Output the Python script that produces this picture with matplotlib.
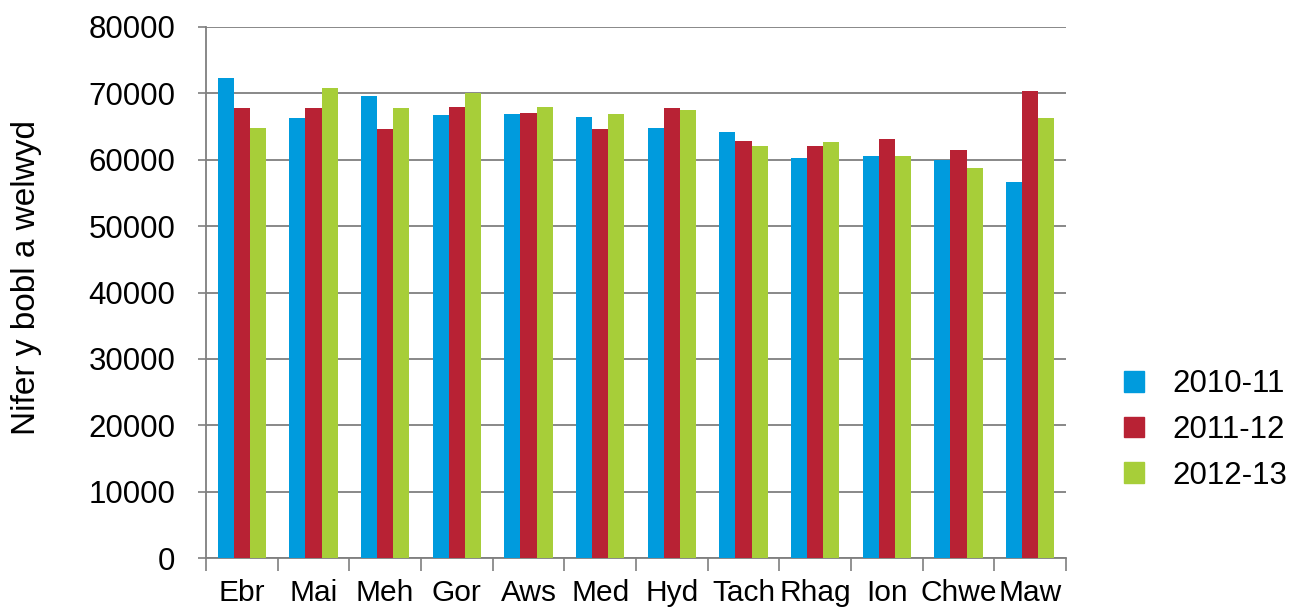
import matplotlib.pyplot as plt
import numpy as np
from matplotlib.patches import Patch

plt.rcParams['font.family'] = ['Liberation Sans', 'DejaVu Sans']

months = ["Ebr", "Mai", "Meh", "Gor", "Aws", "Med", "Hyd", "Tach", "Rhag", "Ion", "Chwe", "Maw"]
y2010_11 = [72300, 66300, 69600, 66700, 66900, 66500, 64800, 64200, 60300, 60600, 59900, 56700]
y2011_12 = [67800, 67800, 64700, 67900, 67000, 64700, 67800, 62800, 62100, 63100, 61500, 70400]
y2012_13 = [64800, 70800, 67800, 70000, 67900, 66900, 67500, 62100, 62700, 60600, 58700, 66300]
series_names = ["2010-11", "2011-12", "2012-13"]
colors = ["#009BDD", "#B82234", "#A7CE39"]

fig = plt.figure(figsize=(12.93, 6.08), dpi=100)
ax = fig.add_axes([206 / 1293, 50 / 608, 860 / 1293, 531 / 608])

x = np.arange(len(months))
w = 0.224
for i, (vals, c) in enumerate(zip([y2010_11, y2011_12, y2012_13], colors)):
    ax.bar(x + (i - 1) * w, vals, width=w, color=c, zorder=3)

ax.set_xlim(-0.5, len(months) - 0.5)
ax.set_ylim(0, 80000)
ax.set_yticks(np.arange(0, 80001, 10000))
ax.yaxis.grid(True, color="#7f7f7f", linewidth=1.3, zorder=0)
ax.set_axisbelow(True)

# category labels centred, tick marks on the boundaries
ax.set_xticks(x)
ax.set_xticklabels(months, fontsize=21.5)
ax.tick_params(axis="x", length=0, pad=15)
ax.set_xticks(np.arange(-0.5, len(months)), minor=True)
ax.tick_params(axis="x", which="minor", length=9, width=1.2, color="#7f7f7f")
ax.tick_params(axis="y", labelsize=22.5, length=6, width=1.2, color="#7f7f7f", pad=16)

for s in ["top", "right"]:
    ax.spines[s].set_visible(False)
for s in ["left", "bottom"]:
    ax.spines[s].set_color("#7f7f7f")
    ax.spines[s].set_linewidth(1.3)

ax.set_ylabel("Nifer y bobl a welwyd", fontsize=24)
ax.yaxis.set_label_coords(-0.191, 0.529)

handles = [Patch(color=c) for c in colors]
fig.legend(handles, series_names, loc="center left", bbox_to_anchor=(1096 / 1293, 1 - 430 / 608),
           frameon=False, fontsize=22.5, handlelength=0.65, handleheight=0.65,
           handletextpad=0.9, labelspacing=0.5)

fig.savefig("out.png", dpi=100)
